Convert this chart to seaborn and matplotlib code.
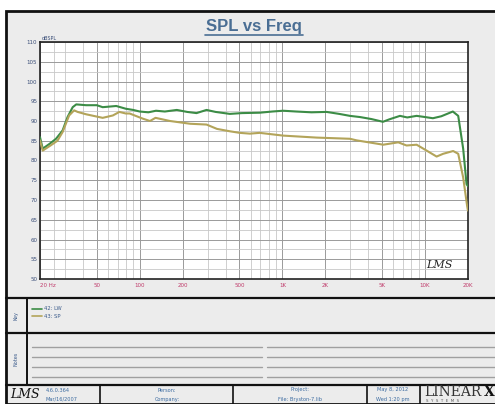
import pandas as pd
import matplotlib
matplotlib.use("Agg")
import matplotlib.pyplot as plt
import seaborn as sns
from matplotlib.lines import Line2D
from matplotlib.patches import Rectangle
from matplotlib.ticker import FixedLocator, NullFormatter

# trace 42: LW (frequency in Hz, level in dBSPL)
freq_lw = [20, 20.9, 23.3, 25.9, 28.8, 31.2, 33.9, 35.9, 42.1, 50, 55, 68.5, 79.9,
           90, 100, 115, 130, 150, 182, 215, 250, 294, 340, 428, 520, 693, 850,
           1010, 1250, 1600, 2040, 2500, 2974, 3500, 4200, 5070, 5600, 6670, 7500,
           8730, 10000, 11350, 13000, 15660, 17080, 18500, 19540, 20000]
spl_lw = [85.9, 83.0, 84.2, 85.5, 87.6, 91.0, 93.5, 94.2, 94.0, 94.0, 93.5, 93.8, 93.1,
          92.8, 92.4, 92.2, 92.6, 92.4, 92.8, 92.3, 92.0, 92.8, 92.3, 91.8, 92.0, 92.1, 92.4,
          92.6, 92.4, 92.2, 92.3, 91.8, 91.3, 91.0, 90.5, 89.8, 90.4, 91.3, 90.9,
          91.3, 91.0, 90.7, 91.2, 92.4, 91.3, 83.0, 74.0, 73.5]

# trace 43: SP
freq_sp = [20, 20.9, 23.7, 26.5, 28.8, 32.0, 34.7, 36.7, 42.1, 55.0, 64.8, 72, 79.9,
           85, 105, 118, 129, 163, 226, 294, 348, 428, 502, 592, 693, 1014, 1738,
           2974, 3312, 5092, 6486, 7420, 8730, 10260, 12050, 13400, 15740, 17080,
           18500, 19720, 20000]
spl_sp = [85.1, 82.5, 83.8, 85.0, 87.2, 91.4, 92.7, 92.3, 91.7, 90.8, 91.4, 92.3, 91.9,
          91.9, 90.6, 90.0, 90.8, 90.0, 89.3, 89.1, 88.0, 87.4, 87.0, 86.8, 87.0, 86.3, 85.8,
          85.5, 85.1, 84.0, 84.6, 83.8, 84.0, 82.5, 81.0, 81.7, 82.4, 81.7,
          75.7, 68.5, 67.3]

series_names = ["42: LW", "43: SP"]
series_colors = ["#3c8c46", "#b3a45a"]
x_ticks = [20, 50, 100, 200, 500, 1000, 2000, 5000, 10000, 20000]
x_labels = ["20 Hz", "50", "100", "200", "500", "1K", "2K", "5K", "10K", "20K"]
y_ticks = list(range(50, 115, 5))

W, H = 495, 404


def fx(x):
    return x / W


def fy(y):
    return 1 - y / H


df = pd.concat([
    pd.DataFrame({"freq": freq_lw, "spl": spl_lw, "trace": series_names[0]}),
    pd.DataFrame({"freq": freq_sp, "spl": spl_sp, "trace": series_names[1]}),
])

sns.set_style("white")
fig = plt.figure(figsize=(W / 100, H / 100), dpi=100, facecolor="white")

# gray sheet with black frame, kept behind the axes
fig.patches.append(Rectangle((fx(6), fy(404)), fx(495) - fx(6) + 0.01, fy(11) - fy(404),
                             transform=fig.transFigure, facecolor="#ececec",
                             edgecolor="#111111", linewidth=2, zorder=-10))

ax = fig.add_axes([fx(40), fy(279), fx(428), 237 / H])
ax.set_zorder(5)
ax.set_facecolor("white")
sns.lineplot(data=df, x="freq", y="spl", hue="trace", palette=series_colors,
             sort=False, estimator=None, legend=False, linewidth=1.5, ax=ax, zorder=3)
ax.set_xscale("log")
ax.set_xlim(20, 20000)
ax.set_ylim(50, 110)

ax.xaxis.set_major_locator(FixedLocator(x_ticks))
ax.set_xticklabels(x_labels)
minor_x = [m * d for d in (10, 100, 1000) for m in range(2, 10)] + [25]
minor_x = [v for v in minor_x if 20 < v < 20000 and v not in x_ticks]
ax.xaxis.set_minor_locator(FixedLocator(minor_x))
ax.xaxis.set_minor_formatter(NullFormatter())
ax.yaxis.set_major_locator(FixedLocator(y_ticks))
ax.yaxis.set_minor_locator(FixedLocator([v + 2.5 for v in y_ticks[:-1]]))
ax.grid(which="major", color="#9a9a9a", linewidth=0.7)
ax.grid(which="minor", color="#c8c8c8", linewidth=0.6)
ax.tick_params(which="both", length=0)
ax.tick_params(axis="x", labelsize=4, labelcolor="#c03a6a", pad=3)
ax.tick_params(axis="y", labelsize=4, labelcolor="#3a4e78", pad=2)
ax.get_xticklabels()[0].set_horizontalalignment("left")
ax.set_xlabel("")
ax.set_ylabel("")
for s in ax.spines.values():
    s.set_color("#222222")
    s.set_linewidth(1.2)
ax.text(0.005, 1.005, "dBSPL", transform=ax.transAxes, fontsize=3.5,
        color="#3a4e78", va="bottom")
ax.text(0.965, 0.04, "LMS", transform=ax.transAxes, fontsize=8, ha="right",
        va="bottom", color="#222222", family="DejaVu Serif", style="italic")

# title
fig.text(fx(254), fy(27), "SPL vs Freq", ha="center", va="center", fontsize=12,
         fontweight="bold", color="#4a6e94", family="Liberation Sans")
fig.lines.append(Line2D([fx(205), fx(303)], [fy(35), fy(35)], transform=fig.transFigure,
                        color="#4a6e94", linewidth=1.2))

# panel separators
for yy in (298, 333, 385):
    fig.lines.append(Line2D([fx(6), fx(495)], [fy(yy), fy(yy)],
                            transform=fig.transFigure, color="#111111", linewidth=1.6))
fig.lines.append(Line2D([fx(27), fx(27)], [fy(298), fy(385)],
                        transform=fig.transFigure, color="#111111", linewidth=1.4))
for xx in (100, 233, 367, 420):
    fig.lines.append(Line2D([fx(xx), fx(xx)], [fy(385), fy(404)],
                            transform=fig.transFigure, color="#111111", linewidth=1.2))

fig.text(fx(16), fy(316), "Key", rotation=90, ha="center", va="center",
         fontsize=3.5, color="#3a5a8a")
fig.text(fx(16), fy(359), "Notes", rotation=90, ha="center", va="center",
         fontsize=3.5, color="#3a5a8a")

# key entries
for i, (name, col) in enumerate(zip(series_names, series_colors)):
    yy = 309 + 7 * i
    fig.lines.append(Line2D([fx(32), fx(42)], [fy(yy), fy(yy)],
                            transform=fig.transFigure, color=col, linewidth=1.2))
    fig.text(fx(44), fy(yy), name, ha="left", va="center", fontsize=3.8, color="#3a5a8a")

# notes lines
for yy in (346.7, 356.7, 366.7, 376.7):
    for x0, x1 in ((32, 262), (267, 495)):
        fig.lines.append(Line2D([fx(x0), fx(x1)], [fy(yy), fy(yy)],
                                transform=fig.transFigure, color="#a0a0a0", linewidth=1.0))

# footer
fig.text(fx(25), fy(395), "LMS", ha="center", va="center", fontsize=9,
         family="DejaVu Serif", style="italic", color="#111111")
footer = [(46, "left", "4.6.0.364", "Mar/16/2007"),
          (167, "center", "Person:", "Company:"),
          (300, "center", "Project:", "File: Bryston-7.lib"),
          (393, "center", "May 8, 2012", "Wed 1:20 pm")]
for xx, ha, top, bottom in footer:
    fig.text(fx(xx), fy(390), top, ha=ha, va="center", fontsize=3.6, color="#3a6aa0")
    fig.text(fx(xx), fy(399), bottom, ha=ha, va="center", fontsize=3.6, color="#3a6aa0")
fig.text(fx(424), fy(392), "LINEAR", ha="left", va="center", fontsize=10,
         family="DejaVu Serif", color="#333333")
fig.text(fx(484), fy(392), "X", ha="left", va="center", fontsize=10,
         family="DejaVu Serif", fontweight="bold", color="#111111")
fig.text(fx(426), fy(401), "S  Y  S  T  E  M  S", ha="left", va="center",
         fontsize=2.8, color="#555555")

fig.savefig("out.png", dpi=100, facecolor="white")
